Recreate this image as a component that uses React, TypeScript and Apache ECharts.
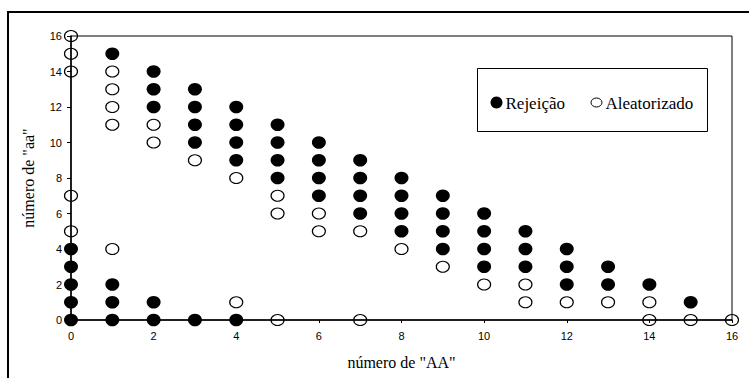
import React, { useEffect, useRef } from "react";
import * as echarts from "echarts";

// Values of "aa" observed for each value of "AA" (index = número de "AA")
const rejeicaoY: number[][] = [
  [0, 1, 2, 3, 4],
  [0, 1, 2, 15],
  [0, 1, 12, 13, 14],
  [0, 10, 11, 12, 13],
  [0, 9, 10, 11, 12],
  [8, 9, 10, 11],
  [7, 8, 9, 10],
  [6, 7, 8, 9],
  [5, 6, 7, 8],
  [4, 5, 6, 7],
  [3, 4, 5, 6],
  [3, 4, 5],
  [2, 3, 4],
  [2, 3],
  [2],
  [1],
  [],
];

const aleatorizadoY: number[][] = [
  [5, 7, 14, 15, 16],
  [4, 11, 12, 13, 14],
  [10, 11],
  [9],
  [1, 8],
  [0, 6, 7],
  [5, 6],
  [0, 5],
  [4],
  [3],
  [2],
  [1, 2],
  [1],
  [1],
  [0, 1],
  [0],
  [0],
];

const seriesNames = ["Rejeição", "Aleatorizado"];
const axisMin = 0;
const axisMax = 16;
const axisInterval = 2;
const xAxisName = 'número de "AA"';
const yAxisName = 'número de "aa"';

function toPoints(cols: number[][]): number[][] {
  const pts: number[][] = [];
  cols.forEach((ys, x) => ys.forEach((y) => pts.push([x, y])));
  return pts;
}

export default function App() {
  const ref = useRef<HTMLDivElement>(null);

  useEffect(() => {
    if (!ref.current) return;
    const chart = echarts.init(ref.current, null, { renderer: "svg" });
    const serif = "Liberation Serif";
    const sans = "Liberation Sans";
    chart.setOption({
      animation: false,
      backgroundColor: "#ffffff",
      textStyle: { fontFamily: serif },
      grid: {
        left: 71,
        right: 17,
        top: 36,
        bottom: 58,
        show: true,
        borderColor: "#000",
        borderWidth: 1,
        backgroundColor: "transparent",
      },
      legend: { show: false },
      graphic: [
        {
          type: "rect",
          shape: { x: 8, y: 12, width: 900, height: 500 },
          style: { fill: "none", stroke: "#000", lineWidth: 2 },
          silent: true,
          z: 0,
        },
        {
          type: "group",
          left: 477,
          top: 68,
          z: 10,
          children: [
            {
              type: "rect",
              shape: { x: 0, y: 0, width: 230, height: 63 },
              style: { fill: "#fff", stroke: "#000", lineWidth: 1 },
            },
            {
              type: "circle",
              shape: { cx: 19, cy: 34, r: 6 },
              style: { fill: "#000" },
            },
            {
              type: "text",
              x: 28,
              y: 35,
              style: {
                text: seriesNames[0],
                font: "17px 'Liberation Serif'",
                fill: "#000",
                align: "left",
                verticalAlign: "middle",
              },
            },
            {
              type: "ellipse",
              shape: { cx: 119, cy: 34, rx: 5.5, ry: 4.5 },
              style: { fill: "#fff", stroke: "#000", lineWidth: 1 },
            },
            {
              type: "text",
              x: 128,
              y: 35,
              style: {
                text: seriesNames[1],
                font: "17px 'Liberation Serif'",
                fill: "#000",
                align: "left",
                verticalAlign: "middle",
              },
            },
          ],
        },
      ],
      xAxis: {
        type: "value",
        min: axisMin,
        max: axisMax,
        interval: axisInterval,
        name: xAxisName,
        nameLocation: "middle",
        nameGap: 34,
        nameTextStyle: { fontFamily: serif, fontSize: 16, color: "#000", verticalAlign: "top" },
        axisLine: { show: true, lineStyle: { color: "#000", width: 1.5 } },
        axisTick: { show: true, length: 3, lineStyle: { color: "#000" } },
        axisLabel: { margin: 10, fontFamily: sans, fontSize: 11, color: "#000" },
        splitLine: { show: false },
      },
      yAxis: {
        type: "value",
        min: axisMin,
        max: axisMax,
        interval: axisInterval,
        name: yAxisName,
        nameLocation: "middle",
        nameGap: 35,
        nameTextStyle: { fontFamily: serif, fontSize: 16, color: "#000" },
        axisLine: { show: true, lineStyle: { color: "#000", width: 1.5 } },
        axisTick: { show: true, length: 4, lineStyle: { color: "#000" } },
        axisLabel: { margin: 9, fontFamily: sans, fontSize: 11, color: "#000" },
        splitLine: { show: false },
      },
      series: [
        {
          name: seriesNames[0],
          type: "scatter",
          symbol: "circle",
          symbolSize: [14, 12.5],
          itemStyle: { color: "#000", opacity: 1 },
          data: toPoints(rejeicaoY),
          z: 3,
        },
        {
          name: seriesNames[1],
          type: "scatter",
          symbol: "circle",
          symbolSize: [13, 11],
          itemStyle: { color: "rgba(255,255,255,0)", borderColor: "#000", borderWidth: 1.1, opacity: 1 },
          data: toPoints(aleatorizadoY),
          z: 4,
        },
      ],
    });
    return () => chart.dispose();
  }, []);

  return (
    <div
      ref={ref}
      style={{ position: "fixed", left: 0, top: 0, width: 749, height: 378 }}
    />
  );
}
